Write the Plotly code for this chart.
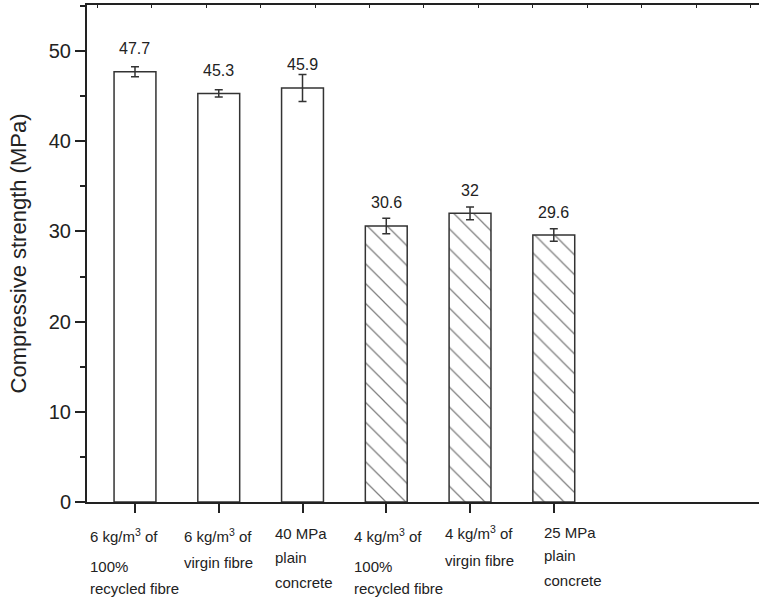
import plotly.graph_objects as go

# ---- data ----
categories = ["c1", "c2", "c3", "c4", "c5", "c6"]
strength = [47.7, 45.3, 45.9, 30.6, 32.0, 29.6]
strength_err = [0.55, 0.4, 1.5, 0.85, 0.7, 0.7]
value_labels = ["47.7", "45.3", "45.9", "30.6", "32", "29.6"]
hatched = [False, False, False, True, True, True]
label_lines = [
    ["6 kg/m<sup>3</sup> of", "100%", "recycled fibre"],
    ["6 kg/m<sup>3</sup> of", "virgin fibre"],
    ["40 MPa", "plain", "concrete"],
    ["4 kg/m<sup>3</sup> of", "100%", "recycled fibre"],
    ["4 kg/m<sup>3</sup> of", "virgin fibre"],
    ["25 MPa", "plain", "concrete"],
]
y_ticks = [0, 10, 20, 30, 40, 50]

# ---- layout helpers (pixel offsets for label placement) ----
label_xshift = [-47, -37, -30, -34, -27, -12]
label_yshift = [
    [-33, -64, -86],
    [-33, -60],
    [-31, -55, -80],
    [-33, -64, -86],
    [-30, -58],
    [-30, -53, -78],
]

FONT = "Liberation Sans, Arial, sans-serif"
xs = list(range(len(categories)))

fig = go.Figure()
fig.add_trace(go.Bar(
    x=xs, y=strength, width=0.5,
    marker=dict(
        color="white",
        line=dict(color="#333333", width=1.5),
        pattern=dict(
            shape=["\\" if h else "" for h in hatched],
            fgcolor="#000000", bgcolor="white", size=14, solidity=0.09,
        ),
    ),
    error_y=dict(type="data", array=strength_err, color="#333333",
                 thickness=1.5, width=4),
    showlegend=False,
))
# dummy trace for the top axis
fig.add_trace(go.Scatter(x=[None], y=[None], xaxis="x2", showlegend=False,
                         hoverinfo="skip"))

annotations = []
for i, v in enumerate(strength):
    annotations.append(dict(
        x=i, y=v, xref="x", yref="y", text=value_labels[i], showarrow=False,
        yshift=23, yanchor="middle", xanchor="center",
        font=dict(family=FONT, size=16, color="#222222"),
    ))
for i, lines in enumerate(label_lines):
    for j, line in enumerate(lines):
        annotations.append(dict(
            x=i, y=0, xref="x", yref="y", text=line, showarrow=False,
            xanchor="left", yanchor="middle",
            xshift=label_xshift[i], yshift=label_yshift[i][j],
            font=dict(family=FONT, size=15, color="#222222"),
        ))

fig.update_layout(
    width=759, height=601,
    margin=dict(l=87, r=0, t=5, b=99, autoexpand=False),
    paper_bgcolor="white", plot_bgcolor="white",
    font=dict(family=FONT, color="#222222"),
    annotations=annotations,
    xaxis=dict(
        range=[-0.573, 7.45], tickvals=xs, ticktext=[""] * len(xs),
        showgrid=False, zeroline=False,
        showline=True, linecolor="#222222", linewidth=2, mirror=True,
        ticks="outside", ticklen=9, tickwidth=1.5, tickcolor="#222222",
    ),
    xaxis2=dict(
        overlaying="x", side="top", anchor="y", range=[-0.1835, 12.147],
        tick0=0, dtick=1, showticklabels=False, showgrid=False,
        zeroline=False, showline=False,
        ticks="inside", ticklen=3, tickwidth=1, tickcolor="#222222",
    ),
    yaxis=dict(
        range=[0, 55.1], tickvals=y_ticks,
        showgrid=False, zeroline=False,
        showline=True, linecolor="#222222", linewidth=2,
        ticks="outside", ticklen=10, tickwidth=1.5, tickcolor="#222222",
        minor=dict(dtick=5, tick0=5, ticks="outside", ticklen=5,
                   tickwidth=1.5, tickcolor="#222222"),
        tickfont=dict(family=FONT, size=20, color="#222222"),
        title=dict(text="Compressive strength (MPa)", standoff=16,
                   font=dict(family=FONT, size=22, color="#222222")),
    ),
)

fig.write_html(
    "out.html",
    config={"displayModeBar": False},
    post_script="document.body.style.margin='0';document.body.style.overflow='hidden';",
)
